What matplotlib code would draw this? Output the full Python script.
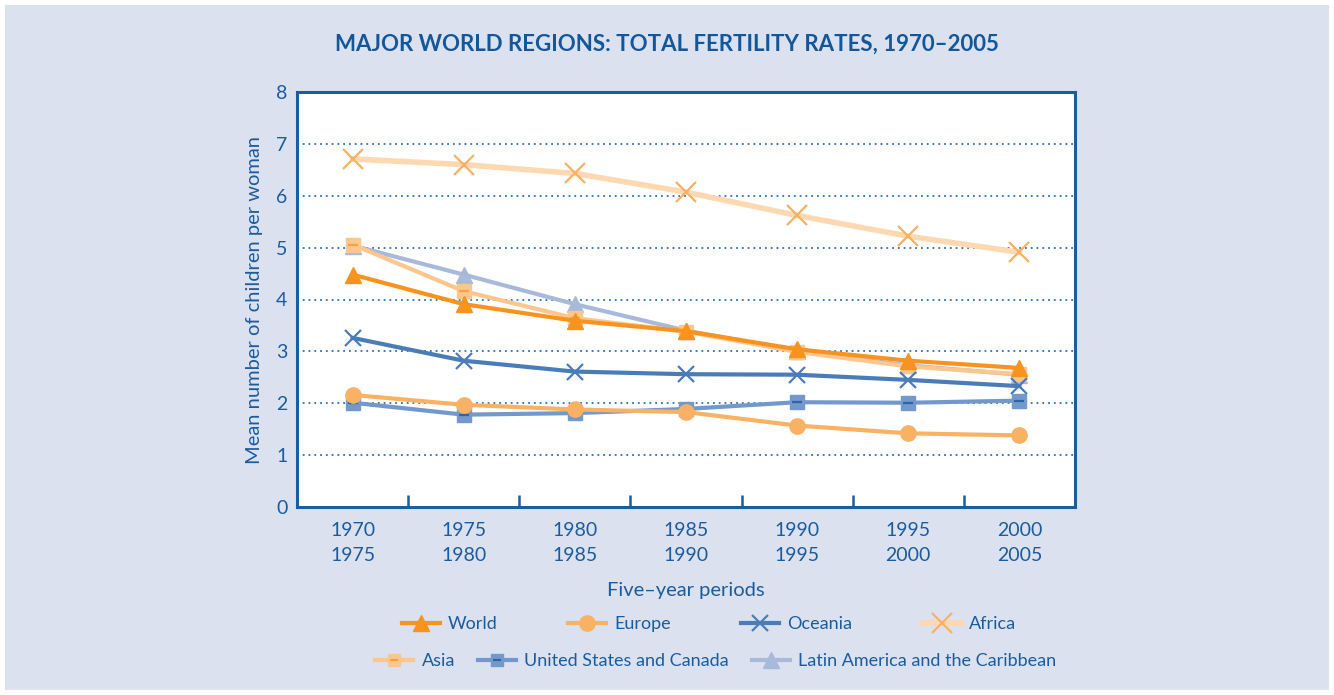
"""
Major world regions: total fertility rates, 1970-2005
"""
import matplotlib
matplotlib.use('Agg')
import matplotlib.pyplot as plt
from matplotlib.lines import Line2D
from matplotlib.patches import Rectangle

# dane
periods = ['1970\n1975', '1975\n1980', '1980\n1985', '1985\n1990',
           '1990\n1995', '1995\n2000', '2000\n2005']
world = [4.48, 3.91, 3.59, 3.39, 3.04, 2.82, 2.68]
europe = [2.16, 1.97, 1.88, 1.83, 1.57, 1.42, 1.38]
oceania = [3.26, 2.82, 2.61, 2.56, 2.55, 2.45, 2.33]
africa = [6.71, 6.60, 6.43, 6.07, 5.62, 5.22, 4.91]
asia = [5.06, 4.16, 3.64, 3.38, 2.99, 2.71, 2.56]
us_canada = [2.01, 1.78, 1.81, 1.89, 2.02, 2.01, 2.05]
latin_america = [5.04, 4.48, 3.91, 3.40, 3.01, 2.73, 2.55]
yticks = [0, 1, 2, 3, 4, 5, 6, 7, 8]

TXT = '#1b5c9e'
BG = '#dbe1ee'

plt.rcParams['font.family'] = ['Lato', 'DejaVu Sans']

fig = plt.figure(figsize=(13.34, 6.95), dpi=100)
fig.patches.append(Rectangle((5 / 1334, 5 / 695), 1324 / 1334, 685 / 695,
                             transform=fig.transFigure, facecolor=BG,
                             edgecolor='none', zorder=-10))
ax = fig.add_axes([297 / 1334, 1 - 507 / 695, 778 / 1334, 415 / 695])
ax.set_facecolor('white')

x = list(range(len(periods)))

ax.plot(x, africa, color='#fed8b0', lw=4, marker='x', ms=14, mew=1.6,
        mec='#f9b165', zorder=2)
ax.plot(x, latin_america, color='#a8b9da', lw=3, marker='^', ms=11,
        mec='#a8b9da', mfc='#a8b9da', zorder=3)
ax.plot(x, asia, color='#fdc68c', lw=3, marker='s', ms=10,
        mfc='#fdc68c', mec='#fdc68c', zorder=4)
ax.plot(x, asia, ls='none', marker='_', ms=7, mew=1.6, mec='#f7a04a', zorder=4)
ax.plot(x, us_canada, color='#7398cb', lw=3, marker='s', ms=10,
        mfc='#7398cb', mec='#7398cb', zorder=5)
ax.plot(x, us_canada, ls='none', marker='_', ms=7, mew=1.6, mec='#2f63a3', zorder=5)
ax.plot(x, europe, color='#f9b264', lw=3, marker='o', ms=11,
        mfc='#f9b264', mec='#f9b264', zorder=6)
ax.plot(x, oceania, color='#4a7db8', lw=3, marker='x', ms=12, mew=1.6,
        mec='#4a7db8', zorder=7)
ax.plot(x, world, color='#f7931e', lw=3, marker='^', ms=11,
        mfc='#f7931e', mec='#f7931e', zorder=8)

ax.set_xlim(-0.5, len(periods) - 0.5)
ax.set_ylim(0, 8)

# osie
for s in ax.spines.values():
    s.set_color('#1a5e9e')
    s.set_linewidth(2.2)
ax.set_yticks(yticks)
ax.set_yticklabels([str(v) for v in yticks])
ax.tick_params(axis='y', length=0, pad=7, labelsize=14, labelcolor=TXT)
ax.set_xticks([i + 0.5 for i in x[:-1]])
ax.set_xticklabels([])
ax.tick_params(axis='x', which='major', direction='in', length=9, width=1.8,
               color='#1a5e9e')
ax.set_xticks(x, minor=True)
ax.set_xticklabels(periods, minor=True)
ax.tick_params(axis='x', which='minor', length=0, pad=11, labelsize=14,
               labelcolor=TXT)
for lab in ax.get_xticklabels(minor=True):
    lab.set_linespacing(1.55)

for v in yticks[1:-1]:
    ax.axhline(v, color='#2a72b5', lw=1.3, ls=(0, (1, 2.2)), zorder=1)

ax.set_ylabel('Mean number of children per woman', fontsize=14.5, color=TXT,
              labelpad=9)
ax.set_xlabel('Five\u2013year periods', fontsize=14.5, color=TXT, labelpad=13)
fig.text(0.5, 1 - 44 / 695,
         'MAJOR WORLD REGIONS: TOTAL FERTILITY RATES, 1970\u20132005',
         ha='center', va='center', fontsize=16, fontweight='bold',
         color='#13579b')

# legenda w dwóch wierszach
h_world = Line2D([], [], color='#f7931e', lw=3, marker='^', ms=11, mec='#f7931e')
h_europe = Line2D([], [], color='#f9b264', lw=3, marker='o', ms=11, mec='#f9b264')
h_oceania = Line2D([], [], color='#4a7db8', lw=3, marker='x', ms=12, mew=1.6)
h_africa = Line2D([], [], color='#fed8b0', lw=4, marker='x', ms=14, mew=1.6,
                  mec='#f9b165')
h_asia = (Line2D([], [], color='#fdc68c', lw=3, marker='s', ms=9, mec='#fdc68c'),
          Line2D([], [], ls='none', marker='_', ms=6, mew=1.5, mec='#f7a04a'))
h_us = (Line2D([], [], color='#7398cb', lw=3, marker='s', ms=9, mec='#7398cb'),
        Line2D([], [], ls='none', marker='_', ms=6, mew=1.5, mec='#2f63a3'))
h_latin = Line2D([], [], color='#a8b9da', lw=3, marker='^', ms=11, mec='#a8b9da')

leg_kw = dict(frameon=False, fontsize=13, handlelength=2.1, handletextpad=0.45,
              labelcolor=TXT, loc='center')
leg1 = fig.legend([h_world, h_europe, h_oceania, h_africa],
                  ['World', 'Europe', 'Oceania', 'Africa'], ncol=4,
                  columnspacing=3.9, bbox_to_anchor=(709 / 1334, 1 - 624 / 695),
                  **leg_kw)
leg2 = fig.legend([h_asia, h_us, h_latin],
                  ['Asia', 'United States and Canada',
                   'Latin America and the Caribbean'], ncol=3,
                  columnspacing=1.3, bbox_to_anchor=(716 / 1334, 1 - 661 / 695),
                  **leg_kw)

fig.savefig('out.png', dpi=100, facecolor='white')
